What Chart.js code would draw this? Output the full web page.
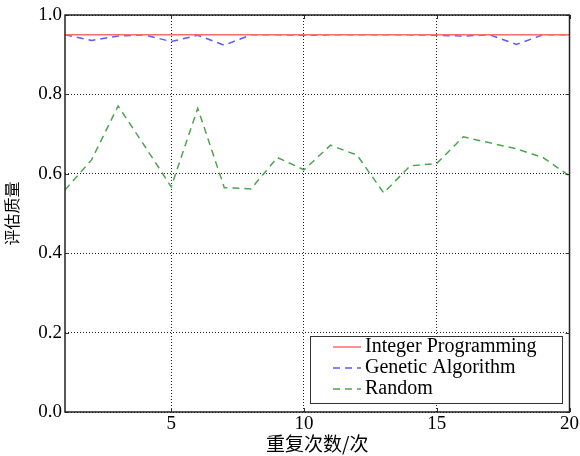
<!DOCTYPE html>
<html>
<head>
<meta charset="utf-8">
<script src="https://cdn.jsdelivr.net/npm/chart.js@4/dist/chart.umd.min.js"></script>
<style>
  html, body { margin: 0; padding: 0; background: #fff; }
  #wrap { width: 580px; height: 456px; }
</style>
</head>
<body>
<div id="wrap"><canvas id="qualityChart" width="580" height="456"></canvas></div>
<script>
// repetition index 1..20
const runs = [1, 2, 3, 4, 5, 6, 7, 8, 9, 10, 11, 12, 13, 14, 15, 16, 17, 18, 19, 20];
const integerProgramming = [0.95, 0.95, 0.95, 0.95, 0.95, 0.95, 0.95, 0.95, 0.95, 0.95,
                            0.95, 0.95, 0.95, 0.95, 0.95, 0.95, 0.95, 0.95, 0.95, 0.95];
const geneticAlgorithm = [0.95, 0.936, 0.947, 0.95, 0.933, 0.949, 0.924, 0.95, 0.95, 0.949,
                          0.95, 0.95, 0.95, 0.95, 0.949, 0.947, 0.95, 0.926, 0.95, 0.95];
const randomChoice = [0.559, 0.635, 0.771, 0.67, 0.567, 0.765, 0.565, 0.562, 0.641, 0.61,
                      0.672, 0.647, 0.552, 0.62, 0.626, 0.693, 0.678, 0.663, 0.641, 0.595];
const xTicks = [5, 10, 15, 20];
const yTicks = [0, 0.2, 0.4, 0.6, 0.8, 1.0];

const serif = "'Liberation Serif', 'DejaVu Serif', serif";
const cjk = "'Noto Sans CJK SC', sans-serif";

function pts(arr) {
    return runs.map((r, i) => ({ x: r, y: arr[i] }));
}

// frame around the plot area, small inward ticks, legend in the lower right corner
const framePlugin = {
    id: 'frame',
    afterDraw(chart) {
        const { ctx, chartArea: a, scales } = chart;
        ctx.save();
        ctx.strokeStyle = '#333';
        ctx.lineWidth = 1;
        xTicks.forEach(v => {
            const x = Math.round(scales.x.getPixelForValue(v)) + 0.5;
            ctx.beginPath();
            ctx.moveTo(x, a.bottom); ctx.lineTo(x, a.bottom - 4);
            ctx.moveTo(x, a.top); ctx.lineTo(x, a.top + 4);
            ctx.stroke();
        });
        yTicks.forEach(v => {
            const y = Math.round(scales.y.getPixelForValue(v)) + 0.5;
            ctx.beginPath();
            ctx.moveTo(a.left, y); ctx.lineTo(a.left + 4, y);
            ctx.moveTo(a.right, y); ctx.lineTo(a.right - 4, y);
            ctx.stroke();
        });

        ctx.strokeStyle = '#222';
        ctx.lineWidth = 1.5;
        ctx.strokeRect(a.left, a.top, a.right - a.left, a.bottom - a.top);

        // legend box
        const bx = 310, by = 336, bw = 252, bh = 67;
        ctx.fillStyle = '#fff';
        ctx.fillRect(bx, by, bw, bh);
        ctx.strokeStyle = '#333';
        ctx.lineWidth = 1;
        ctx.strokeRect(bx + 0.5, by + 0.5, bw, bh);
        ctx.font = '20px ' + serif;
        ctx.textBaseline = 'middle';
        chart.data.datasets.forEach((ds, i) => {
            const y = by + 11 + i * 21;
            ctx.strokeStyle = ds.borderColor;
            ctx.lineWidth = ds.borderWidth;
            ctx.setLineDash(ds.borderDash || []);
            ctx.beginPath();
            ctx.moveTo(333, y);
            ctx.lineTo(361, y);
            ctx.stroke();
            ctx.setLineDash([]);
            ctx.fillStyle = '#000';
            ctx.fillText(ds.label, 365, y);
        });
        ctx.restore();
    }
};

const config = {
    type: 'line',
    data: {
        datasets: [{
            label: 'Integer Programming',
            data: pts(integerProgramming),
            borderColor: '#ff6b6b',
            borderWidth: 1.5,
            pointRadius: 0,
            tension: 0
        }, {
            label: 'Genetic Algorithm',
            data: pts(geneticAlgorithm),
            borderColor: '#5a5aff',
            borderWidth: 1.5,
            borderDash: [7, 5],
            pointRadius: 0,
            tension: 0
        }, {
            label: 'Random',
            data: pts(randomChoice),
            borderColor: '#4da64d',
            borderWidth: 1.5,
            borderDash: [7, 5],
            pointRadius: 0,
            tension: 0
        }]
    },
    options: {
        animation: false,
        responsive: false,
        layout: { padding: { top: 15, right: 8, left: 0, bottom: 0 } },
        plugins: {
            legend: { display: false },
            tooltip: { enabled: false }
        },
        scales: {
            x: {
                type: 'linear',
                min: 1,
                max: 20,
                afterBuildTicks: (s) => { s.ticks = xTicks.map(v => ({ value: v })); },
                afterFit: (s) => { s.height = 44; },
                grid: { color: '#222', lineWidth: 1, drawTicks: false },
                border: { display: false, dash: [1, 2] },
                ticks: {
                    color: '#000',
                    padding: 1,
                    font: { family: serif, size: 19 }
                },
                title: {
                    display: true,
                    text: '重复次数/次',
                    color: '#000',
                    padding: { top: 0, bottom: 1 },
                    font: { family: cjk, size: 19 }
                }
            },
            y: {
                min: 0,
                max: 1,
                afterBuildTicks: (s) => { s.ticks = yTicks.map(v => ({ value: v })); },
                afterFit: (s) => { s.width = 65; },
                grid: { color: '#222', lineWidth: 1, drawTicks: false },
                border: { display: false, dash: [1, 2] },
                ticks: {
                    color: '#000',
                    padding: 3,
                    font: { family: serif, size: 19 },
                    callback: (v) => v.toFixed(1)
                },
                title: {
                    display: true,
                    text: '评估质量',
                    color: '#000',
                    padding: { top: 2, bottom: 0 },
                    font: { family: cjk, size: 16 }
                }
            }
        }
    },
    plugins: [framePlugin]
};

const ctx = document.getElementById('qualityChart').getContext('2d');
const qualityChart = new Chart(ctx, config);
</script>
</body>
</html>
